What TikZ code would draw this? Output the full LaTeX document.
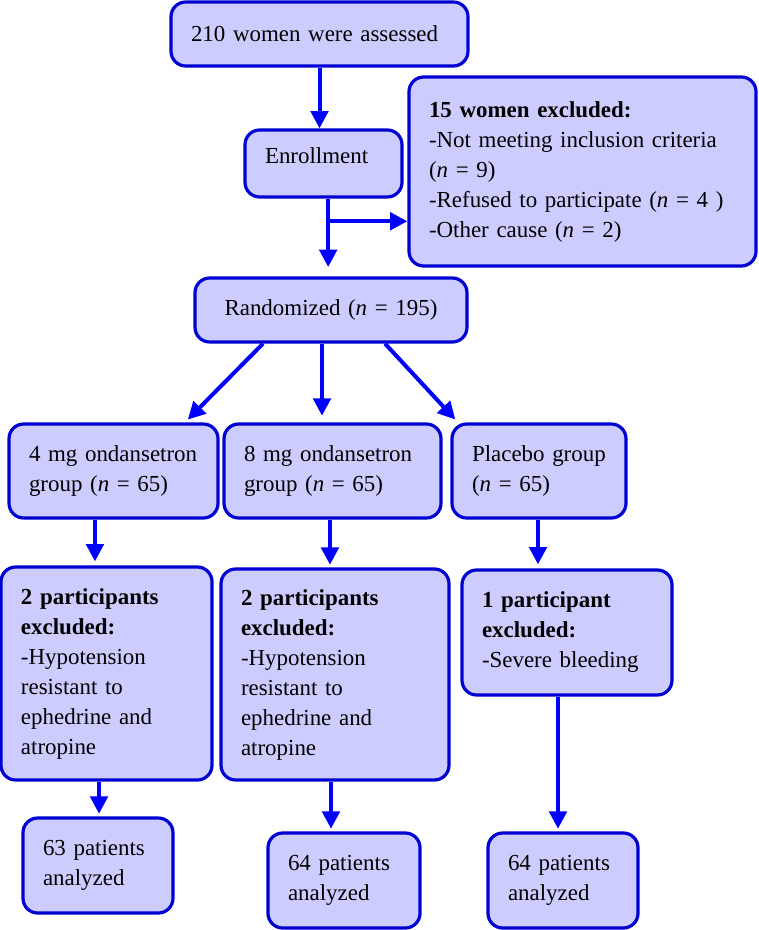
\documentclass[tikz,border=0pt]{standalone}
\usepackage{fontspec}
\setmainfont{Liberation Serif}
\usepackage{tikz}
\usetikzlibrary{arrows.meta}
\definecolor{boxfill}{RGB}{204,204,255}
\definecolor{boxline}{RGB}{0,0,210}
\definecolor{arrowblue}{RGB}{0,0,255}
\tikzset{every picture/.style={line width=0.75pt}}
\tikzset{
  flowbox/.style={draw=boxline, fill=boxfill, line width=2.4pt, rounded corners=11pt,
    inner sep=0pt, align=left, font=\fontsize{17.2}{22.5}\selectfont},
  flowarrow/.style={draw=arrowblue, line width=3pt,
    -{Triangle[length=13pt,width=13pt]}}
}
\newcommand{\nn}{\textit{n}}

\begin{document}
\begin{tikzpicture}[x=0.75pt,y=0.75pt,yscale=-1,xscale=1]
\useasboundingbox (0,0) rectangle (758,930);

%Boxes, top part
\node (assess) at (319.5,34) [flowbox, minimum width=222.75pt, minimum height=48pt, text width=192.75pt] {210 women were assessed};
\node (enroll) at (323.5,163.5) [flowbox, minimum width=117.75pt, minimum height=50.25pt, text width=87.75pt, text depth=12pt] {Enrollment};
\node (excl) at (582.5,171.5) [flowbox, minimum width=260.25pt, minimum height=141.75pt, text width=230.25pt] {\textbf{15 women excluded:}\\-Not meeting inclusion criteria\\(\nn{} = 9)\\-Refused to participate (\nn{} = 4 )\\-Other cause (\nn{} = 2)};
\node (random) at (331,310) [flowbox, align=center, minimum width=204pt, minimum height=48pt, text width=174pt] {Randomized (\nn{} = 195)};

%Groups
\node (grpa) at (113.5,471) [flowbox, minimum width=156.75pt, minimum height=70.5pt, text width=126.75pt] {4 mg ondansetron\\group (\nn{} = 65)};
\node (grpb) at (332.5,471) [flowbox, minimum width=162.75pt, minimum height=70.5pt, text width=132.75pt] {8 mg ondansetron\\group (\nn{} = 65)};
\node (grpc) at (539,471) [flowbox, minimum width=130.5pt, minimum height=70.5pt, text width=100.5pt] {Placebo group\\(\nn{} = 65)};

%Exclusions after allocation
\node (exa) at (106.5,673.5) [flowbox, minimum width=158.25pt, minimum height=159.75pt, text width=128.25pt] {\textbf{2 participants}\\\textbf{excluded:}\\-Hypotension\\resistant to\\ephedrine and\\atropine};
\node (exb) at (335,674.5) [flowbox, minimum width=171pt, minimum height=158.25pt, text width=141pt] {\textbf{2 participants}\\\textbf{excluded:}\\-Hypotension\\resistant to\\ephedrine and\\atropine};
\node (exc) at (567,632.5) [flowbox, minimum width=157.5pt, minimum height=93.75pt, text width=127.5pt] {\textbf{1 participant}\\\textbf{excluded:}\\-Severe bleeding};

%Analyzed
\node (ana) at (98,865.5) [flowbox, minimum width=112.5pt, minimum height=71.25pt, text width=82.5pt] {63 patients\\analyzed};
\node (anb) at (344,880.5) [flowbox, minimum width=114pt, minimum height=71.25pt, text width=84pt] {64 patients\\analyzed};
\node (anc) at (563,880.5) [flowbox, minimum width=112.5pt, minimum height=71.25pt, text width=82.5pt] {64 patients\\analyzed};

%Straight Lines
\draw [flowarrow] (assess.south) -- (assess.south |- enroll.north);
\draw [flowarrow, shorten >=7pt] ([xshift=3.5pt]enroll.south) -- ([xshift=3.5pt]enroll.south |- random.north);
\coordinate (split) at ([xshift=3.5pt,yshift=17pt]enroll.south);
\draw [flowarrow] (split) -- (split -| excl.west);
\draw [flowarrow, shorten >=3pt] ([xshift=-51pt]random.south) -- ([xshift=53.6pt]grpa.north);
\draw [flowarrow, shorten >=5pt] ([xshift=-6.75pt]random.south) -- ([xshift=-6.75pt]random.south |- grpb.north);
\draw [flowarrow, shorten >=3pt] ([xshift=40.5pt]random.south) -- ([xshift=-60.75pt]grpc.north);
\draw [flowarrow, shorten >=3pt] ([xshift=-13.9pt]grpa.south) -- ([xshift=-13.9pt]grpa.south |- exa.north);
\draw [flowarrow, shorten >=2pt] ([xshift=-1.9pt]grpb.south) -- ([xshift=-1.9pt]grpb.south |- exb.north);
\draw [flowarrow, shorten >=3pt] ([xshift=-0.75pt]grpc.south) -- ([xshift=-0.75pt]grpc.south |- exc.north);
\draw [flowarrow, shorten >=2pt] ([xshift=-5.6pt]exa.south) -- ([xshift=-5.6pt]exa.south |- ana.north);
\draw [flowarrow, shorten >=2pt] ([xshift=-3pt]exb.south) -- ([xshift=-3pt]exb.south |- anb.north);
\draw [flowarrow, shorten >=2pt] ([xshift=-6.75pt]exc.south) -- ([xshift=-6.75pt]exc.south |- anc.north);

\end{tikzpicture}
\end{document}
